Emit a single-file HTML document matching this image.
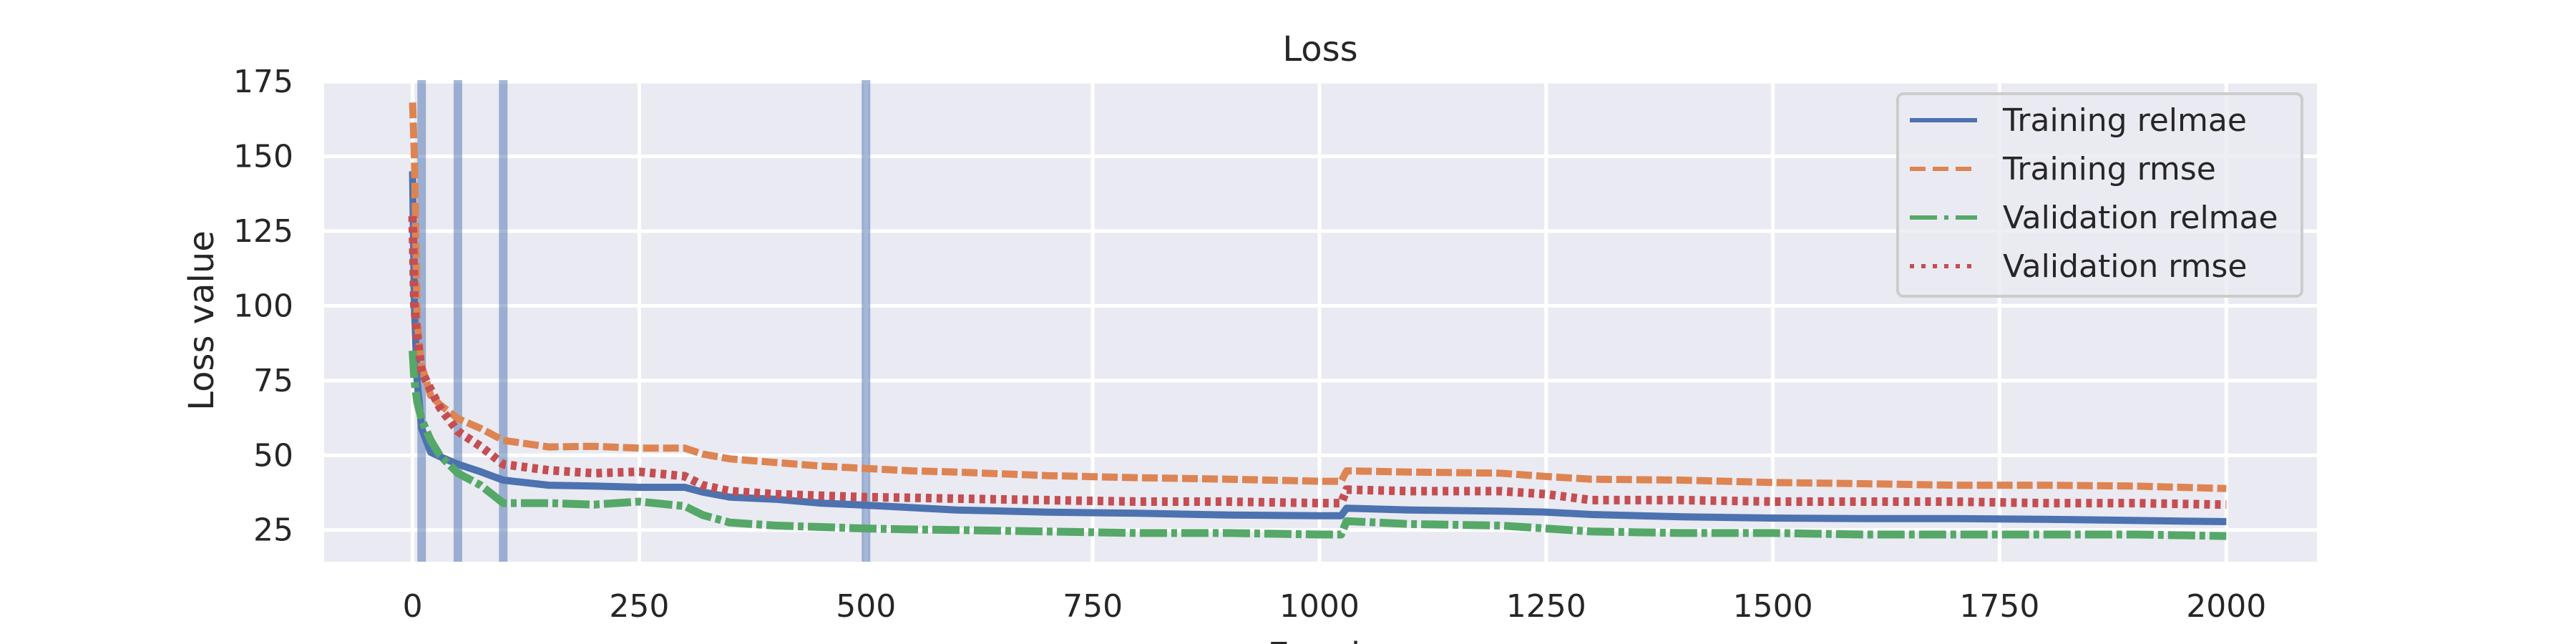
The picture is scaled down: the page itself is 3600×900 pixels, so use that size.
<!DOCTYPE html>
<html><head><meta charset="utf-8"><style>
html,body{margin:0;padding:0;background:#fff;}
svg{display:block;font-family:"DejaVu Sans","Liberation Sans",sans-serif;}
</style></head><body>
<svg id="chart" width="3600" height="900" viewBox="0 0 3600 900" xmlns="http://www.w3.org/2000/svg">
<rect x="453" y="112" width="2785" height="673" fill="#eaeaf2"/>
<g id="grid"></g>
<g id="vlines"></g>
<g id="series"></g>
<g id="ticks"></g>
<text x="1845" y="85" font-size="48" text-anchor="middle" fill="#262626">Loss</text>
<text x="0" y="0" font-size="48" text-anchor="middle" fill="#262626" transform="translate(298,448) rotate(-90)">Loss value</text>
<text x="1845" y="932" font-size="48" text-anchor="middle" fill="#262626">Epoch</text>
<g id="legend">
<rect x="2652" y="131" width="565" height="283" rx="8" fill="#eaeaf2" fill-opacity="0.8" stroke="#cccccc" stroke-width="4"/>
</g>
</svg>
<script>
const xMin=-97.5, xMax=2100, yMin=14.4, yMax=175.5;
const xTicks=[0,250,500,750,1000,1250,1500,1750,2000];
const yTicks=[25,50,75,100,125,150,175];
const markerEpochs=[10,50,100,500];
const epochs=[0,2,5,10,20,30,50,75,100,150,200,250,300,320,350,400,450,500,550,600,700,800,900,1000,1024,1030,1100,1200,1250,1300,1400,1500,1600,1700,1800,1900,2000];
const trainRelmae=[145,100,75,59,51,49.6,47,44.5,41.7,40,39.7,39.3,39.3,37.7,36,35.3,34,33.3,32.5,31.7,31,30.6,30,29.8,29.8,32.3,31.7,31.3,31,30.2,29.4,29,28.8,28.8,28.6,28.2,27.8];
const trainRmse=[168,150,95,80,70,67,62.3,59,55,52.8,53,52.4,52.4,50.4,48.8,47.6,46.4,45.6,44.8,44.4,43.2,42.5,42,41.3,41.3,44.8,44.4,44,42.9,42,41.7,40.9,40.5,40,40,39.7,38.9];
const valRelmae=[85,75,68,62,55,50,44,40,34,34,33.5,34.5,33,30,27.5,26.5,26,25.5,25.2,25,24.5,24,24,23.5,23.5,28,27,26.5,25.5,24.5,24,24,23.5,23.5,23.5,23.5,23];
const valRmse=[130,100,90,78,72,66,58,53,47,45,44,44.5,43,40,38,37,36.5,36,35.8,35.5,35,34.5,34.5,34,34,38.5,38,38,37,35,35,34.5,34.5,34.5,34,34,33.5];
const seriesNames=["Training relmae","Training rmse","Validation relmae","Validation rmse"];

const L=453,R=3238,T=112,B=785;
const sx=v=>L+(v-xMin)/(xMax-xMin)*(R-L);
const sy=v=>B-(v-yMin)/(yMax-yMin)*(B-T);
const NS="http://www.w3.org/2000/svg";
function mk(tag,attrs,parent){const e=document.createElementNS(NS,tag);for(const k in attrs)e.setAttribute(k,attrs[k]);parent.appendChild(e);return e;}
const grid=document.getElementById('grid'),ticks=document.getElementById('ticks');
xTicks.forEach(t=>{
 const l=mk('line',{x1:sx(t),x2:sx(t),y1:T,y2:B,stroke:'#fff','stroke-width':5},grid);
 
 
 const tx=mk('text',{x:sx(t),y:862,'font-size':44,'text-anchor':'middle',fill:'#262626'},ticks);
 tx.textContent=t;
 
 
});
yTicks.forEach(t=>{
 const l=mk('line',{x1:L,x2:R,y1:sy(t),y2:sy(t),stroke:'#fff','stroke-width':5},grid);
 
 
 const tx=mk('text',{x:410,y:sy(t)+15,'font-size':44,'text-anchor':'end',fill:'#262626'},ticks);
 tx.textContent=t;
 
 
});
const vl=document.getElementById('vlines');
markerEpochs.forEach(e=>{
 const l=mk('line',{x1:sx(e),x2:sx(e),y1:T,y2:B,stroke:'#4c72b0','stroke-opacity':0.5,'stroke-width':12},vl);
 
 
});
const styles=[
 {c:'#4c72b0',d:'none',n:'training-relmae-line',w:10},
 {c:'#dd8452',d:'22 6',n:'training-rmse-line',w:10},
 {c:'#55a868',d:'38 6 8 6',n:'validation-relmae-line',w:11},
 {c:'#c44e52',d:'8 7',n:'validation-rmse-line',w:12}];
const data=[trainRelmae,trainRmse,valRelmae,valRmse];
const sg=document.getElementById('series');
data.forEach((arr,i)=>{
 const d=arr.map((v,j)=>(j?'L':'M')+sx(epochs[j]).toFixed(1)+','+sy(v).toFixed(1)).join(' ');
 const p=mk('path',{d:d,fill:'none',stroke:styles[i].c,'stroke-width':styles[i].w,'stroke-dasharray':styles[i].d,'stroke-linejoin':'round'},sg);
 
 
});
const legendDash=['none','22 10','38 10 6 10','6 10'];
const lg=document.getElementById('legend');
seriesNames.forEach((s,i)=>{
 const y=168+i*68;
 const l=mk('line',{x1:2669,x2:2763,y1:y,y2:y,stroke:styles[i].c,'stroke-width':6,'stroke-dasharray':legendDash[i]},lg);
 
 
 const t=mk('text',{x:2799,y:y+15,'font-size':44,fill:'#262626'},lg);
 t.textContent=s;
 
 
});
</script>
</body></html>
